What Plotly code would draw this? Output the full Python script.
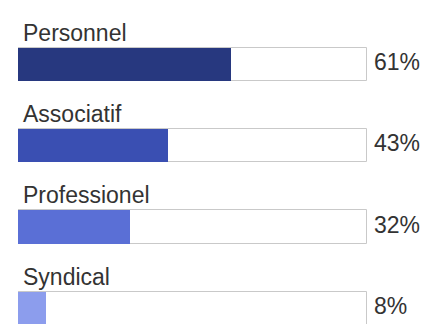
import plotly.graph_objects as go

categories = ["Personnel", "Associatif", "Professionel", "Syndical"]
values = [61, 43, 32, 8]
colors = ["#27387f", "#3a4fb2", "#5a6fd6", "#8c9ded"]
total = [100, 100, 100, 100]

pos = list(range(len(categories)))

fig = go.Figure()
fig.add_trace(go.Bar(
    x=total, y=pos, orientation="h", width=0.41,
    marker=dict(color="white", line=dict(color="#c9c9c9", width=1)),
    hoverinfo="skip", showlegend=False,
))
fig.add_trace(go.Bar(
    x=values, y=pos, orientation="h", width=0.41,
    marker=dict(color=colors, line=dict(width=0)),
    showlegend=False,
))

font_family = "Liberation Sans, Arial, sans-serif"
for i, (c, v) in enumerate(zip(categories, values)):
    fig.add_annotation(x=0, y=i - 0.39, text=c, showarrow=False,
                       xanchor="left", yanchor="middle", xshift=3,
                       font=dict(family=font_family, size=23, color="#333333"))
    fig.add_annotation(x=100, y=i - 0.03, text=f"{v}%", showarrow=False,
                       xanchor="left", yanchor="middle", xshift=5,
                       font=dict(family=font_family, size=23, color="#333333"))

fig.update_layout(
    width=438, height=324,
    margin=dict(l=18, r=70, t=0, b=0),
    paper_bgcolor="white", plot_bgcolor="white",
    barmode="overlay", bargap=0,
    xaxis=dict(range=[0, 100.4], visible=False, fixedrange=True),
    yaxis=dict(range=[3.192, -0.793], visible=False, fixedrange=True),
)

fig.write_html("out.html")
